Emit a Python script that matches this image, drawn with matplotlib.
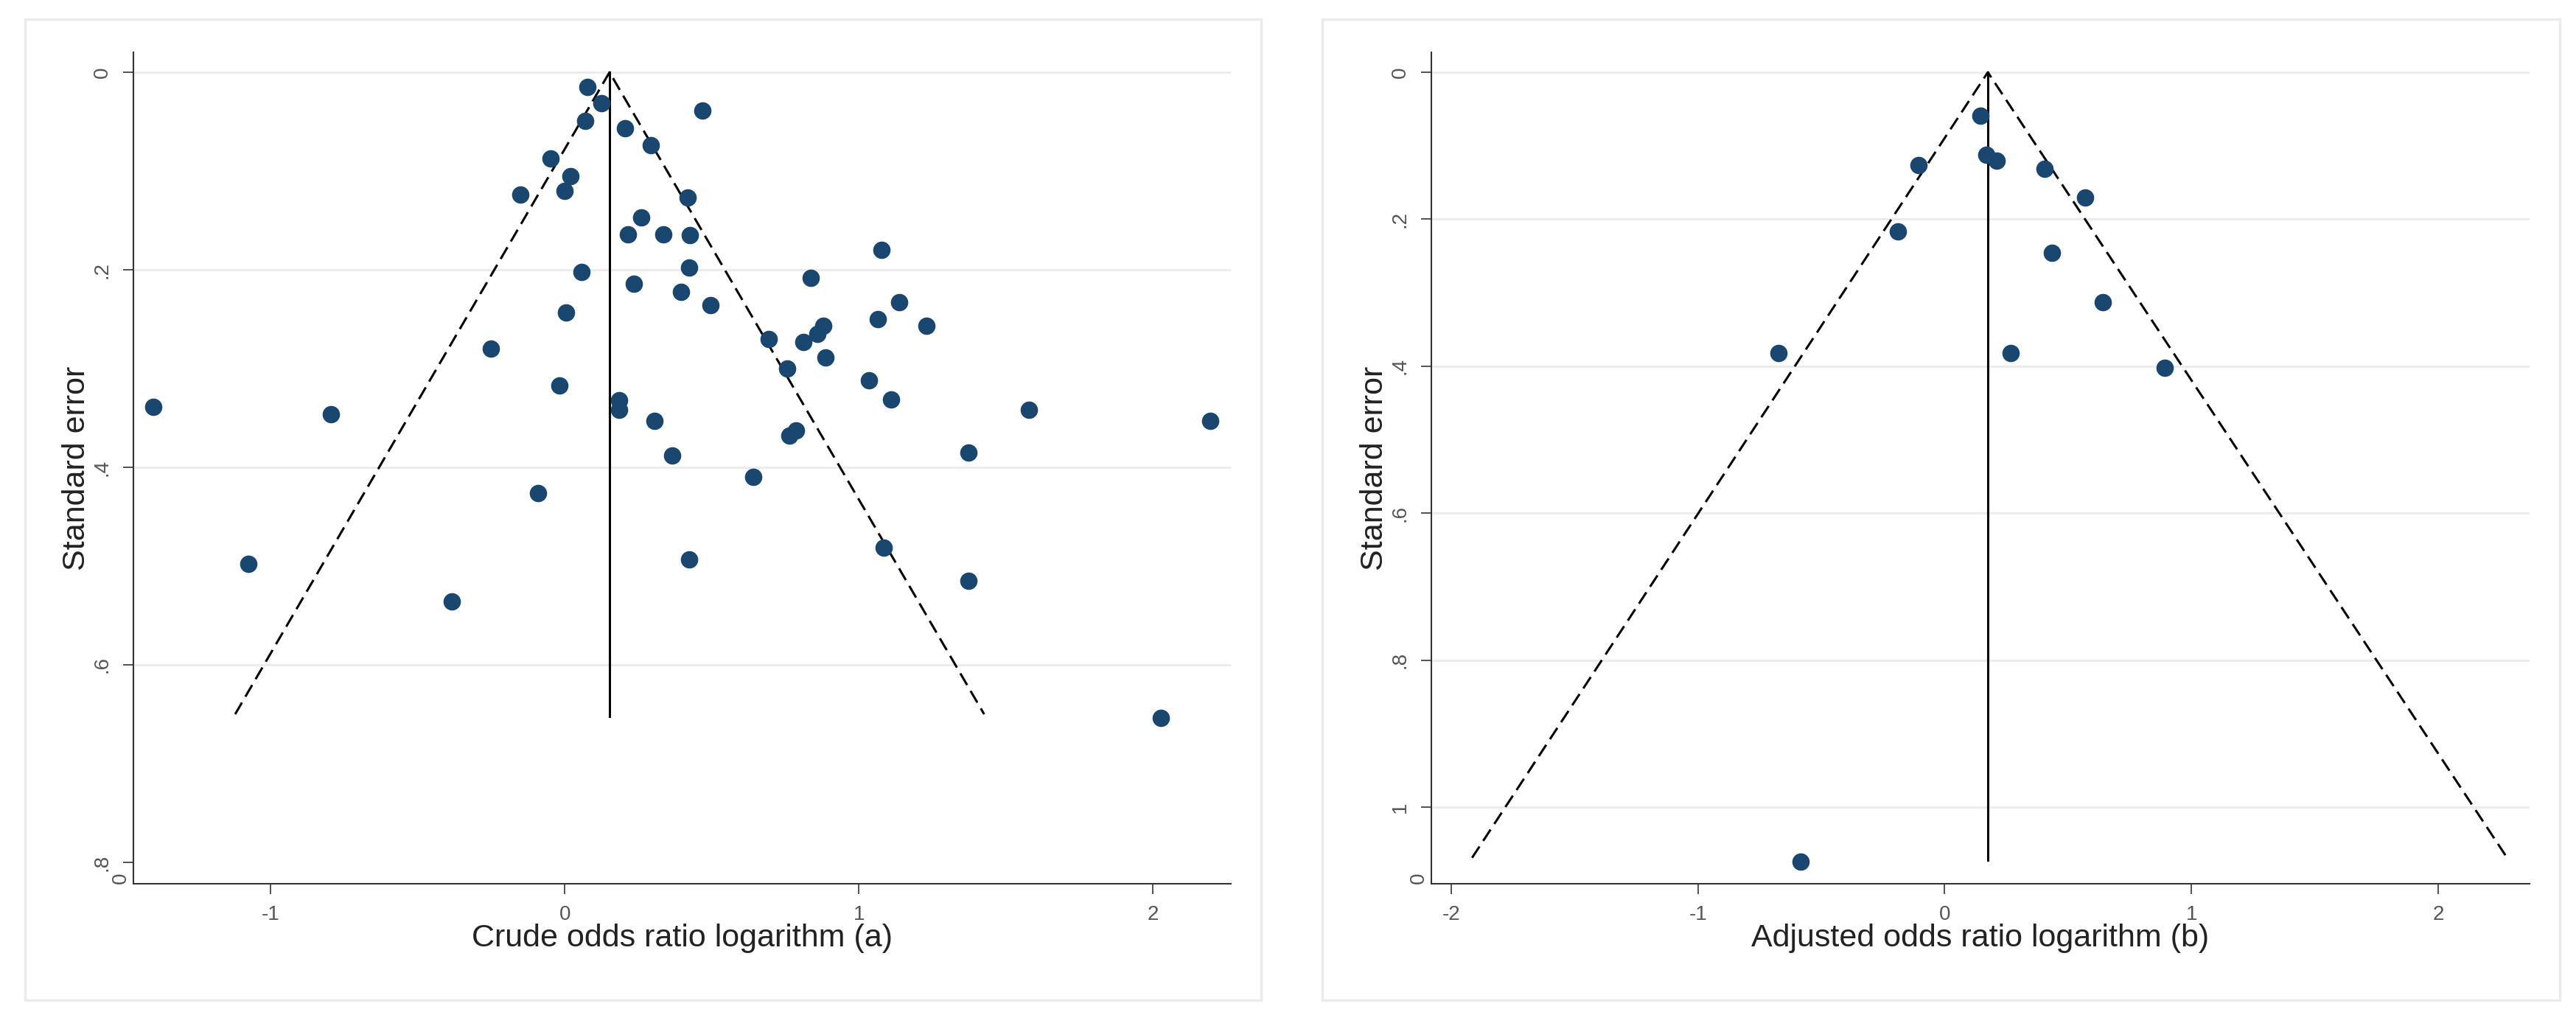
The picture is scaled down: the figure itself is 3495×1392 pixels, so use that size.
import numpy as np
import matplotlib.pyplot as plt
from matplotlib.patches import Rectangle
import matplotlib.transforms as mtransforms

plt.rcParams['font.family'] = ['Liberation Sans', 'DejaVu Sans']

# panel (a): crude odds ratio logarithm vs standard error
crude_logor = [0.077, 0.124, 0.070, 0.205, 0.292, -0.049, 0.020, -0.002, -0.150,
               0.260, 0.214, 0.335, 0.056, 0.234, 0.005, -0.251, -0.018, 0.184,
               0.184, 0.306, -1.399, -0.795, -0.090, -1.075, -0.385, 0.469, 0.419,
               0.426, 1.078, 0.422, 0.836, 0.395, 1.136, 0.496, 1.064, 1.229,
               0.879, 0.858, 0.693, 0.812, 0.887, 0.757, 1.034, 1.110, 1.577,
               2.196, 0.764, 0.786, 0.366, 1.373, 0.642, 0.422, 1.084, 1.373, 2.028]
crude_se = [0.015, 0.031, 0.049, 0.057, 0.074, 0.087, 0.105, 0.120, 0.124,
            0.147, 0.164, 0.164, 0.202, 0.214, 0.243, 0.280, 0.317, 0.332,
            0.342, 0.353, 0.339, 0.346, 0.426, 0.498, 0.536, 0.039, 0.127,
            0.165, 0.180, 0.198, 0.208, 0.222, 0.233, 0.236, 0.250, 0.257,
            0.257, 0.265, 0.270, 0.273, 0.289, 0.300, 0.312, 0.331, 0.342,
            0.353, 0.368, 0.363, 0.388, 0.385, 0.410, 0.493, 0.481, 0.515, 0.654]
crude_funnel_x = [-1.121, 0.152, 1.426]
crude_funnel_y = [0.650, 0.0, 0.650]
crude_center = 0.152
crude_se_max = 0.652

# panel (b): adjusted odds ratio logarithm vs standard error
adj_logor = [-0.107, -0.189, -0.675, -0.584, 0.144, 0.170, 0.210, 0.405,
             0.568, 0.436, 0.642, 0.268, 0.891]
adj_se = [0.126, 0.217, 0.382, 1.074, 0.059, 0.112, 0.120, 0.131,
          0.170, 0.246, 0.313, 0.382, 0.402]
adj_funnel_x = [-1.916, 0.175, 2.280]
adj_funnel_y = [1.069, 0.0, 1.069]
adj_center = 0.175
adj_se_max = 1.072

navy = '#1a476f'
W, H = 3495, 1392
fig = plt.figure(figsize=(W / 100, H / 100), dpi=100)

# light outer frames (Stata graph regions)
for x0, x1 in [(34, 1711), (1794, 3473)]:
    fig.patches.append(Rectangle((x0 / W, 1 - 1357 / H), (x1 - x0) / W, (1357 - 26) / H,
                                 transform=fig.transFigure, fill=False,
                                 edgecolor='#ebebeb', lw=2.5, zorder=0))

def funnel(ax, xs, ses, fx, fy, center, se_max, xlim, ylim, xticks, xlabels,
           yticks, ylabels, gridticks, xlabel):
    for g in gridticks:
        ax.axhline(g, color='#ececec', lw=2.2, zorder=1)
    ax.plot(fx, fy, color='black', lw=2.2, dashes=(6, 3), zorder=2)
    ax.plot([center, center], [0, se_max], color='black', lw=2.2, zorder=2)
    ax.plot(xs, ses, 'o', color=navy, ms=17, mec='none', zorder=3)
    ax.set_xlim(xlim)
    ax.set_ylim(ylim)
    ax.set_xticks(xticks)
    ax.set_xticklabels(xlabels)
    ax.set_yticks(yticks)
    ax.set_yticklabels(ylabels, rotation=90, va='center')
    for s in ['top', 'right']:
        ax.spines[s].set_visible(False)
    for s in ['left', 'bottom']:
        ax.spines[s].set_color('#333333')
        ax.spines[s].set_linewidth(1.5)
    ax.tick_params(direction='out', length=10, width=1.2, color='#333333',
                   labelsize=20, labelcolor='#555555', pad=11)
    ax.set_ylabel('Standard error', fontsize=31, color='#222222')
    ax.yaxis.set_label_coords(-0.038, 0.5)
    ax.set_xlabel(xlabel, fontsize=31, color='#222222')
    ax.xaxis.set_label_coords(0.5, -0.048)
    tr = mtransforms.blended_transform_factory(ax.transAxes, ax.transData)
    ax.text(-0.0114, ylim[0] - 0.006 * (ylim[0] - ylim[1]), '0', transform=tr,
            rotation=90, ha='center', va='center', fontsize=20, color='#555555')

ax1 = fig.add_axes([181 / W, 1 - 1198.5 / H, (1670 - 181) / W, (1198.5 - 71.4) / H])
funnel(ax1, crude_logor, crude_se, crude_funnel_x, crude_funnel_y, crude_center,
       crude_se_max, (-1.467, 2.265), (0.8213, -0.0199), [-1, 0, 1, 2],
       ['-1', '0', '1', '2'], [0, 0.2, 0.4, 0.6, 0.8], ['0', '.2', '.4', '.6', '.8'],
       [0, 0.2, 0.4, 0.6], 'Crude odds ratio logarithm (a)')

ax2 = fig.add_axes([1942 / W, 1 - 1198.5 / H, (3432 - 1942) / W, (1198.5 - 71.4) / H])
funnel(ax2, adj_logor, adj_se, adj_funnel_x, adj_funnel_y, adj_center,
       adj_se_max, (-2.081, 2.371), (1.1038, -0.0267), [-2, -1, 0, 1, 2],
       ['-2', '-1', '0', '1', '2'], [0, 0.2, 0.4, 0.6, 0.8, 1.0],
       ['0', '.2', '.4', '.6', '.8', '1'], [0, 0.2, 0.4, 0.6, 0.8, 1.0],
       'Adjusted odds ratio logarithm (b)')

fig.savefig('out.png', dpi=100)
